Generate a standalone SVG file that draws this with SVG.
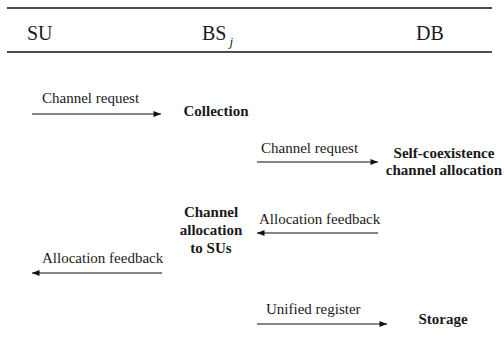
<svg xmlns="http://www.w3.org/2000/svg" width="504" height="343" viewBox="0 0 504 343">
  <style>
    text { font-family: "Liberation Serif", Tinos, "DejaVu Serif", "Times New Roman", serif; fill: #1a1a1a; }
    .hdr { font-size: 20px; }
    .lbl { font-size: 15px; }
    .step { font-size: 15px; font-weight: bold; text-anchor: middle; }
    .rule { stroke: #111; stroke-width: 1.6; }
    .msg { stroke: #111; stroke-width: 1.2; fill: none; }
  </style>
  <defs>
    <marker id="head" viewBox="0 0 10 8" refX="10" refY="4" markerWidth="8" markerHeight="6" markerUnits="userSpaceOnUse" orient="auto">
      <path d="M0,0 L10,4 L0,8 Z" fill="#111"/>
    </marker>
  </defs>

  <!-- table header -->
  <g id="header">
    <line class="rule" x1="7" y1="8" x2="492" y2="8"/>
    <line class="rule" x1="7" y1="52" x2="492" y2="52"/>
    <text class="hdr" x="27" y="40">SU</text>
    <text class="hdr" x="202" y="40">BS<tspan font-style="italic" font-size="13" dx="3" dy="6">j</tspan></text>
    <text class="hdr" x="416" y="40" font-size="21">DB</text>
  </g>

  <!-- processing steps -->
  <g id="collection">
    <text class="step" x="216" y="116">Collection</text>
  </g>
  <g id="self-coexistence">
    <text class="step" x="444" y="158">Self-coexistence</text>
    <text class="step" x="444" y="175">channel allocation</text>
  </g>
  <g id="allocation-to-sus">
    <text class="step" x="211" y="217">Channel</text>
    <text class="step" x="211" y="235">allocation</text>
    <text class="step" x="211" y="253">to SUs</text>
  </g>
  <g id="storage">
    <text class="step" x="443" y="324">Storage</text>
  </g>

  <!-- messages -->
  <g id="connectors">
    <line class="msg" x1="32" y1="114" x2="161" y2="114" marker-end="url(#head)"/>
    <text class="lbl" x="42" y="103">Channel request</text>

    <line class="msg" x1="257" y1="162" x2="378" y2="162" marker-end="url(#head)"/>
    <text class="lbl" x="261" y="153">Channel request</text>

    <line class="msg" x1="378" y1="233" x2="257" y2="233" marker-end="url(#head)"/>
    <text class="lbl" x="259" y="224">Allocation feedback</text>

    <line class="msg" x1="162" y1="273" x2="32" y2="273" marker-end="url(#head)"/>
    <text class="lbl" x="42" y="263">Allocation feedback</text>

    <line class="msg" x1="257" y1="324" x2="387" y2="324" marker-end="url(#head)"/>
    <text class="lbl" x="266" y="314">Unified register</text>
  </g>
</svg>
